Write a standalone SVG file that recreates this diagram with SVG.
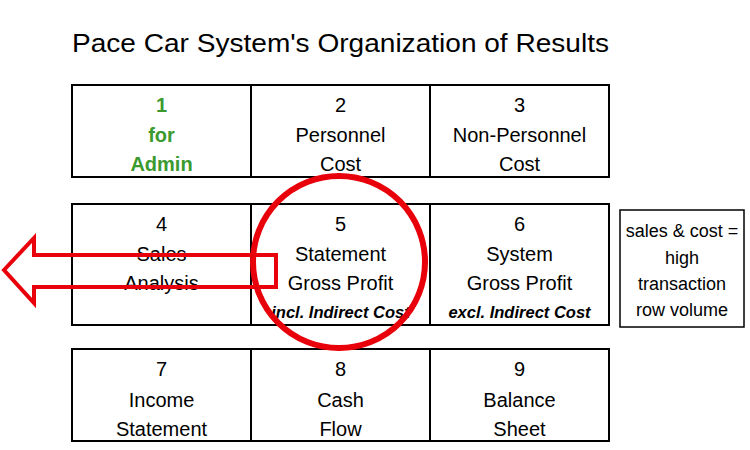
<svg xmlns="http://www.w3.org/2000/svg" width="750" height="450" viewBox="0 0 750 450">
<style>
.cell{fill:#fff;stroke:#000;stroke-width:2}
.t{font-family:"Liberation Sans",Arial,sans-serif;font-size:20px;fill:#000;text-anchor:middle}
.g{fill:#3A9A2E;font-weight:bold}
.bi{font-weight:bold;font-style:italic;font-size:16.5px}
.n{font-size:18px}
.red{fill:none;stroke:#E8000B}
</style>
<rect width="750" height="450" fill="#fff"/>
<text x="72" y="52" font-family="Liberation Sans,Arial,sans-serif" font-size="25" textLength="537" lengthAdjust="spacingAndGlyphs">Pace Car System's Organization of Results</text>
<g id="node1"><rect class="cell" x="72" y="85" width="179" height="92"/><text class="t g" x="161.5" y="112">1</text><text class="t g" x="161.5" y="142">for</text><text class="t g" x="161.5" y="171">Admin</text></g>
<g id="node2"><rect class="cell" x="251" y="85" width="179" height="92"/><text class="t" x="340.5" y="112">2</text><text class="t" x="340.5" y="142">Personnel</text><text class="t" x="340.5" y="171">Cost</text></g>
<g id="node3"><rect class="cell" x="430" y="85" width="179" height="92"/><text class="t" x="519.5" y="112">3</text><text class="t" x="519.5" y="142">Non-Personnel</text><text class="t" x="519.5" y="171">Cost</text></g>
<g id="node4"><rect class="cell" x="72" y="204" width="179" height="121"/><text class="t" x="161.5" y="231">4</text><text class="t" x="161.5" y="261">Sales</text><text class="t" x="161.5" y="290">Analysis</text></g>
<g id="node5"><rect class="cell" x="251" y="204" width="179" height="121"/><text class="t" x="340.5" y="231">5</text><text class="t" x="340.5" y="261">Statement</text><text class="t" x="340.5" y="290">Gross Profit</text><text class="t bi" x="340.5" y="318">incl. Indirect Cost</text></g>
<g id="node6"><rect class="cell" x="430" y="204" width="179" height="121"/><text class="t" x="519.5" y="231">6</text><text class="t" x="519.5" y="261">System</text><text class="t" x="519.5" y="290">Gross Profit</text><text class="t bi" x="519.5" y="318">excl. Indirect Cost</text></g>
<g id="node7"><rect class="cell" x="72" y="349" width="179" height="92"/><text class="t" x="161.5" y="376">7</text><text class="t" x="161.5" y="407">Income</text><text class="t" x="161.5" y="436">Statement</text></g>
<g id="node8"><rect class="cell" x="251" y="349" width="179" height="92"/><text class="t" x="340.5" y="376">8</text><text class="t" x="340.5" y="407">Cash</text><text class="t" x="340.5" y="436">Flow</text></g>
<g id="node9"><rect class="cell" x="430" y="349" width="179" height="92"/><text class="t" x="519.5" y="376">9</text><text class="t" x="519.5" y="407">Balance</text><text class="t" x="519.5" y="436">Sheet</text></g>
<g id="note"><rect x="620" y="210" width="124" height="117" fill="#fff" stroke="#000" stroke-width="1.5"/><text class="t n" x="682" y="237">sales &amp; cost =</text><text class="t n" x="682" y="264">high</text><text class="t n" x="682" y="290">transaction</text><text class="t n" x="682" y="316">row volume</text></g>
<g id="connectors">
<path class="red" stroke-width="4" d="M4,270 L34,238 L34,255 L276,255 L276,287 L34,287 L34,303 Z"/>
<circle class="red" stroke-width="6" cx="339" cy="262" r="86"/>
</g>
</svg>
